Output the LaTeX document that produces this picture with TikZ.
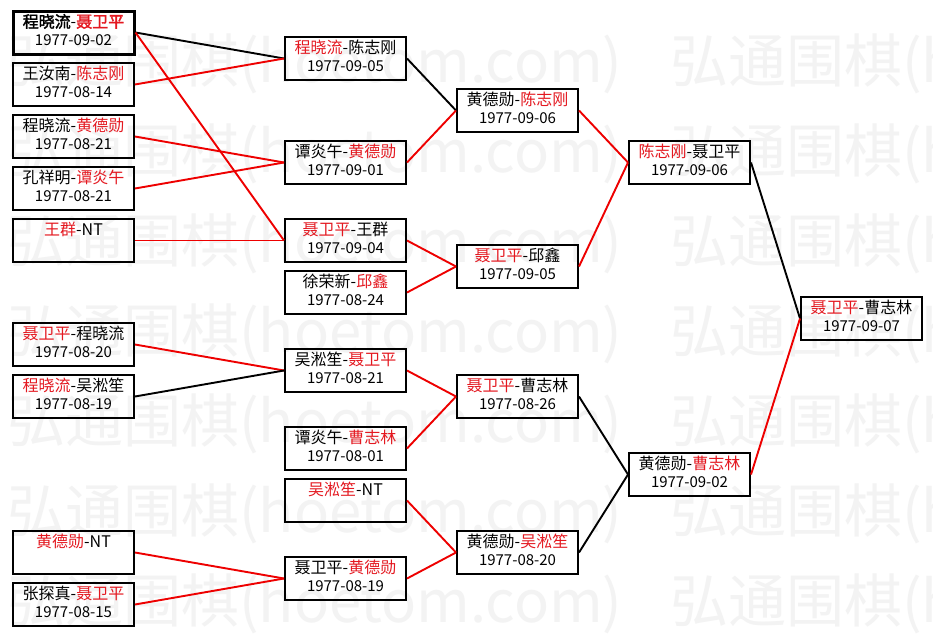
\documentclass[tikz,border=0pt]{standalone}
\usepackage{fontspec}
\setmainfont{Noto Sans CJK SC}
\newfontfamily\boldcjk{Noto Sans CJK SC}[FakeBold=2]
\definecolor{wred}{RGB}{228,24,32}
\definecolor{lred}{RGB}{238,0,0}
\definecolor{wm}{RGB}{243,243,243}
\newcommand\rn[1]{\textcolor{wred}{#1}}
\newcommand\dt[1]{{\fontsize{15}{18}\selectfont #1}}
\begin{document}
\begin{tikzpicture}[x=1pt,y=-1pt,
  match/.style={draw=black, line width=2pt, minimum width=121pt, minimum height=43pt,
    inner sep=0pt, align=center, font=\fontsize{16}{18}\selectfont},
  winline/.style={line width=1.9pt, draw=lred},
  loseline/.style={line width=1.9pt, draw=black},
  wmark/.style={text=wm, font=\fontsize{58}{60}\selectfont, anchor=west, inner sep=0pt}]
\useasboundingbox (0,0) rectangle (933,637);
\fill[white] (0,0) rectangle (933,637);
% watermark
\foreach \yy [count=\i] in {64,154,...,604} {
  \node[wmark] (wl\i) at (7,\yy) {弘通围棋(hoetom.com)};
  \node[wmark] (wr\i) at (670,\yy) {弘通围棋(hoetom.com)};
}
% column 1
\node[match, line width=3pt] (a1) at (73.5,32.5) {\strut{\boldcjk 程晓流}-{\boldcjk\rn{聂卫平}}\\\strut \dt{1977-09-02}};
\node[match] (a2) at (73.5,84.5) {\strut 王汝南-\rn{陈志刚}\\\strut \dt{1977-08-14}};
\node[match] (a3) at (73.5,136.5) {\strut 程晓流-\rn{黄德勋}\\\strut \dt{1977-08-21}};
\node[match] (a4) at (73.5,188.5) {\strut 孔祥明-\rn{谭炎午}\\\strut \dt{1977-08-21}};
\node[match] (a5) at (73.5,240.5) {\strut\rn{王群}-NT\\\strut};
\node[match] (a6) at (73.5,344.5) {\strut\rn{聂卫平}-程晓流\\\strut \dt{1977-08-20}};
\node[match] (a7) at (73.5,396.5) {\strut\rn{程晓流}-吴淞笙\\\strut \dt{1977-08-19}};
\node[match] (a8) at (73.5,552.5) {\strut\rn{黄德勋}-NT\\\strut};
\node[match] (a9) at (73.5,604.5) {\strut 张探真-\rn{聂卫平}\\\strut \dt{1977-08-15}};
% column 2
\node[match] (b1) at (345.5,58.5) {\strut\rn{程晓流}-陈志刚\\\strut \dt{1977-09-05}};
\node[match] (b2) at (345.5,162.5) {\strut 谭炎午-\rn{黄德勋}\\\strut \dt{1977-09-01}};
\node[match] (b3) at (345.5,240.5) {\strut\rn{聂卫平}-王群\\\strut \dt{1977-09-04}};
\node[match] (b4) at (345.5,292.5) {\strut 徐荣新-\rn{邱鑫}\\\strut \dt{1977-08-24}};
\node[match] (b5) at (345.5,370.5) {\strut 吴淞笙-\rn{聂卫平}\\\strut \dt{1977-08-21}};
\node[match] (b6) at (345.5,448.5) {\strut 谭炎午-\rn{曹志林}\\\strut \dt{1977-08-01}};
\node[match] (b7) at (345.5,500.5) {\strut\rn{吴淞笙}-NT\\\strut};
\node[match] (b8) at (345.5,578.5) {\strut 聂卫平-\rn{黄德勋}\\\strut \dt{1977-08-19}};
% column 3
\node[match] (c1) at (517.5,110.5) {\strut 黄德勋-\rn{陈志刚}\\\strut \dt{1977-09-06}};
\node[match] (c2) at (517.5,266.5) {\strut\rn{聂卫平}-邱鑫\\\strut \dt{1977-09-05}};
\node[match] (c3) at (517.5,396.5) {\strut\rn{聂卫平}-曹志林\\\strut \dt{1977-08-26}};
\node[match] (c4) at (517.5,552.5) {\strut 黄德勋-\rn{吴淞笙}\\\strut \dt{1977-08-20}};
% column 4
\node[match] (d1) at (689.5,162.5) {\strut\rn{陈志刚}-聂卫平\\\strut \dt{1977-09-06}};
\node[match] (d2) at (689.5,474.5) {\strut 黄德勋-\rn{曹志林}\\\strut \dt{1977-09-02}};
% column 5
\node[match] (e1) at (861.5,318.5) {\strut\rn{聂卫平}-曹志林\\\strut \dt{1977-09-07}};
% connectors
\draw[loseline] (a1.east) -- (b1.west);
\draw[winline] (a1.east) -- (b3.west);
\draw[winline] (a2.east) -- (b1.west);
\draw[winline] (a3.east) -- (b2.west);
\draw[winline] (a4.east) -- (b2.west);
\draw[winline] (a5.east) -- (b3.west);
\draw[winline] (a6.east) -- (b5.west);
\draw[loseline] (a7.east) -- (b5.west);
\draw[winline] (a8.east) -- (b8.west);
\draw[winline] (a9.east) -- (b8.west);
\draw[loseline] (b1.east) -- (c1.west);
\draw[winline] (b2.east) -- (c1.west);
\draw[winline] (b3.east) -- (c2.west);
\draw[winline] (b4.east) -- (c2.west);
\draw[winline] (b5.east) -- (c3.west);
\draw[winline] (b6.east) -- (c3.west);
\draw[winline] (b7.east) -- (c4.west);
\draw[winline] (b8.east) -- (c4.west);
\draw[winline] (c1.east) -- (d1.west);
\draw[winline] (c2.east) -- (d1.west);
\draw[loseline] (c3.east) -- (d2.west);
\draw[loseline] (c4.east) -- (d2.west);
\draw[loseline] (d1.east) -- (e1.west);
\draw[winline] (d2.east) -- (e1.west);
\end{tikzpicture}
\end{document}
